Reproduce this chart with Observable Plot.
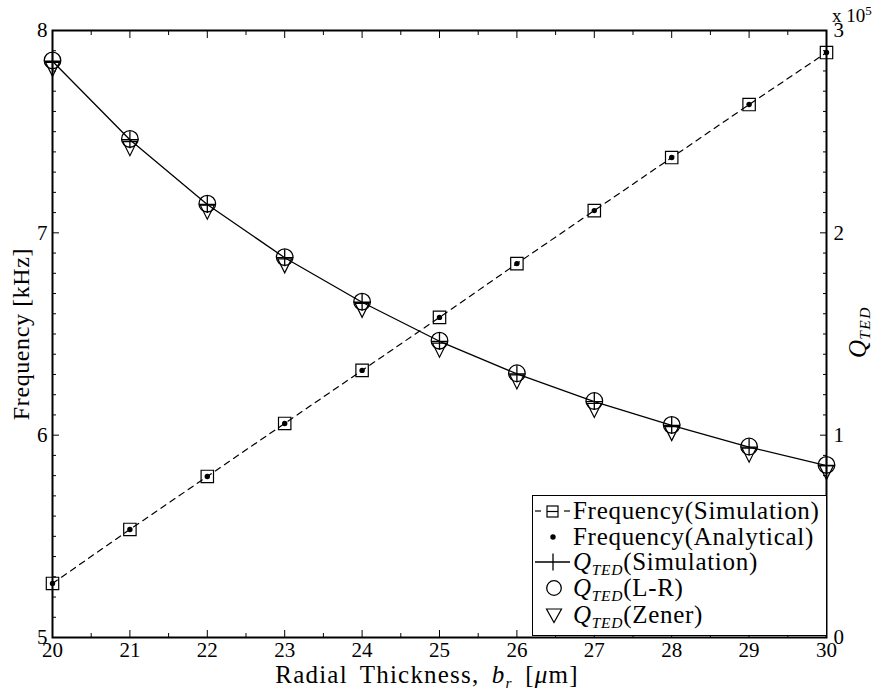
<!DOCTYPE html>
<html>
<head>
<meta charset="utf-8">
<script src="https://cdn.jsdelivr.net/npm/d3@7"></script>
<script src="https://cdn.jsdelivr.net/npm/@observablehq/plot@0.6"></script>
<style>
  body { margin: 0; background: white; }
  #wrap { position: relative; width: 876px; height: 690px; font-family: "Liberation Serif", "Times New Roman", Tinos, serif; color: black; }
  #wrap > svg { position: absolute; left: 0; top: 0; }
  .ov { position: absolute; white-space: nowrap; line-height: 1; }
  #legend { position: absolute; left: 532px; top: 495px; width: 295px; height: 141px; border: 1px solid black; background: white; box-sizing: border-box; }
  .row { position: absolute; left: 0; height: 26px; display: flex; align-items: center; }
  .row svg { flex: none; }
  .row span { font-size: 25px; margin-left: 1px; letter-spacing: 0.7px; }
  i { font-style: italic; }
  sub { font-size: 0.62em; vertical-align: -0.3em; line-height: 0; }
</style>
</head>
<body>
<div id="wrap"></div>
<script>
// ---- data ----
const thickness = [20, 21, 22, 23, 24, 25, 26, 27, 28, 29, 30];          // b_r [µm]
const freqSim   = [5.267, 5.534, 5.796, 6.058, 6.320, 6.582, 6.848, 7.110, 7.372, 7.634, 7.891]; // kHz
const freqAna   = [5.267, 5.534, 5.796, 6.058, 6.320, 6.582, 6.848, 7.110, 7.372, 7.634, 7.891]; // kHz
const qSim      = [284800, 246000, 214000, 187700, 165700, 146400, 130300, 116600, 104800, 94100, 85000];
const qLR       = [285200, 246400, 214400, 188000, 166000, 146700, 130600, 116900, 105100, 94400, 85300];
const qZener    = [280800, 241600, 210200, 183700, 161700, 142000, 126300, 112200, 100800, 90100, 81500];
const xTicks      = [20, 21, 22, 23, 24, 25, 26, 27, 28, 29, 30];
const xMinorTicks = [20.5, 21.5, 22.5, 23.5, 24.5, 25.5, 26.5, 27.5, 28.5, 29.5];
const leftTicks   = [5, 6, 7, 8];
const rightTickLabels = ["0", "1", "2", "3"];   // ×10^5
const qScaleExp = 5;

const FONT = '"Liberation Serif", "Times New Roman", Tinos, serif';

// shared y scale: left axis is kHz (5..8); right axis is Q/1e5 offset by 5
const qToY = q => leftTicks[0] + q / Math.pow(10, qScaleExp);
const yMinor = d3.range(50, 81).map(v => v / 10).filter(v => !leftTicks.includes(v));

const freqRows = thickness.map((x, i) => ({x, sim: freqSim[i], ana: freqAna[i]}));
const qRows = thickness.map((x, i) => ({x, sim: qToY(qSim[i]), lr: qToY(qLR[i]), zener: qToY(qZener[i])}));

const plusSym = {draw(ctx, size) { const r = Math.sqrt(size / Math.PI); ctx.moveTo(-r, 0); ctx.lineTo(r, 0); ctx.moveTo(0, -r); ctx.lineTo(0, r); }};
const triDown = {draw(ctx, size) { const r = Math.sqrt(size / Math.PI); ctx.moveTo(-r, -r); ctx.lineTo(r, -r); ctx.lineTo(0, r); ctx.closePath(); }};

const chart = Plot.plot({
  width: 876, height: 690,
  marginLeft: 52, marginRight: 50, marginTop: 30, marginBottom: 53,
  style: {fontFamily: FONT, fontSize: "21px", color: "black", background: "white"},
  x: {domain: [20, 30]},
  y: {domain: [5, 8]},
  marks: [
    // ticks inward on all sides
    Plot.axisX({anchor: "bottom", ticks: xTicks, tickSize: -7, fill: "none", label: null}),
    Plot.axisX({anchor: "bottom", ticks: xMinorTicks, tickSize: -4, fill: "none", label: null}),
    Plot.axisX({anchor: "top", ticks: xTicks, tickSize: -7, fill: "none", label: null}),
    Plot.axisX({anchor: "top", ticks: xMinorTicks, tickSize: -4, fill: "none", label: null}),
    Plot.axisY({anchor: "left", ticks: leftTicks, tickSize: -7, fill: "none", label: null}),
    Plot.axisY({anchor: "left", ticks: yMinor, tickSize: -4, fill: "none", label: null}),
    Plot.axisY({anchor: "right", ticks: leftTicks, tickSize: -7, fill: "none", label: null}),
    Plot.axisY({anchor: "right", ticks: yMinor, tickSize: -4, fill: "none", label: null}),
    // tick labels
    Plot.axisX({anchor: "bottom", ticks: xTicks, tickSize: 0, tickPadding: 5, tickFormat: d => String(d), label: null}),
    Plot.axisY({anchor: "left", ticks: leftTicks, tickSize: 0, tickPadding: 5, tickFormat: d => String(d), label: null}),
    Plot.axisY({anchor: "right", ticks: leftTicks, tickSize: 0, tickPadding: 7, tickFormat: (d, i) => rightTickLabels[i], label: null}),
    // frequency
    Plot.line(freqRows, {x: "x", y: "sim", stroke: "black", strokeWidth: 1.2, strokeDasharray: "6,5"}),
    Plot.dot(freqRows, {x: "x", y: "sim", symbol: "square", r: 7, stroke: "black", strokeWidth: 1.2, fill: "none"}),
    Plot.dot(freqRows, {x: "x", y: "ana", symbol: "circle", r: 2.7, fill: "black", stroke: "none"}),
    // Q_TED
    Plot.line(qRows, {x: "x", y: "sim", stroke: "black", strokeWidth: 1.3}),
    Plot.dot(qRows, {x: "x", y: "sim", symbol: plusSym, r: 8.5, stroke: "black", strokeWidth: 1.3}),
    Plot.dot(qRows, {x: "x", y: "lr", symbol: "circle", r: 8.3, stroke: "black", strokeWidth: 1.3, fill: "none"}),
    Plot.dot(qRows, {x: "x", y: "zener", symbol: triDown, r: 7, stroke: "black", strokeWidth: 1.2, fill: "none"}),
    Plot.frame({stroke: "black", strokeWidth: 2})
  ]
});

const wrap = document.getElementById("wrap");
wrap.appendChild(chart);

function addOv(html, css) {
  const d = document.createElement("div");
  d.className = "ov";
  d.innerHTML = html;
  Object.assign(d.style, css);
  wrap.appendChild(d);
  return d;
}
// axis titles
addOv('Radial Thickness, <i>b</i><sub><i>r</i></sub> [<i>μ</i>m]', {left: "427px", top: "662px", fontSize: "25px", letterSpacing: "1.2px", wordSpacing: "5px", transform: "translateX(-50%)"});
addOv('Frequency [kHz]', {left: "21px", top: "334px", fontSize: "24px", letterSpacing: "0.6px", transform: "translate(-50%,-50%) rotate(-90deg)"});
addOv('<i>Q</i><sub><i style="letter-spacing:1.5px">TED</i></sub>', {left: "857px", top: "332px", fontSize: "25px", transform: "translate(-50%,-50%) rotate(-90deg)"});
// exponent
addOv('x 10<sup style="font-size:13px;vertical-align:0.55em;line-height:0">' + qScaleExp + '</sup>', {left: "832px", top: "6px", fontSize: "19px"});

// legend
const legend = document.createElement("div");
legend.id = "legend";
wrap.appendChild(legend);
const legendItems = [
  {svg: '<line x1="2" y1="13" x2="8" y2="13" stroke="black" stroke-width="1.2"/><rect x="14" y="8" width="11" height="11" fill="none" stroke="black" stroke-width="1.2"/><line x1="14" y1="13.5" x2="25" y2="13.5" stroke="black" stroke-width="1.2"/><line x1="31" y1="13" x2="37" y2="13" stroke="black" stroke-width="1.2"/>', text: 'Frequency(Simulation)'},
  {svg: '<circle cx="20" cy="13" r="2.7" fill="black"/>', text: 'Frequency(Analytical)'},
  {svg: '<line x1="2" y1="13" x2="37" y2="13" stroke="black" stroke-width="1.3"/><line x1="20" y1="4.5" x2="20" y2="21.5" stroke="black" stroke-width="1.3"/>', text: '<i>Q</i><sub><i>TED</i></sub>(Simulation)'},
  {svg: '<circle cx="21" cy="13" r="7.3" fill="none" stroke="black" stroke-width="1.3"/>', text: '<i>Q</i><sub><i>TED</i></sub>(L-R)'},
  {svg: '<path d="M13.5,7 L28.5,7 L21,20.5 Z" fill="none" stroke="black" stroke-width="1.2"/>', text: '<i>Q</i><sub><i>TED</i></sub>(Zener)'}
];
const rowTops = [2, 28, 53, 79, 106];
legendItems.forEach((it, i) => {
  const r = document.createElement("div");
  r.className = "row";
  r.style.top = rowTops[i] + "px";
  r.innerHTML = '<svg width="39" height="26">' + it.svg + '</svg><span>' + it.text + '</span>';
  legend.appendChild(r);
});
</script>
</body>
</html>
